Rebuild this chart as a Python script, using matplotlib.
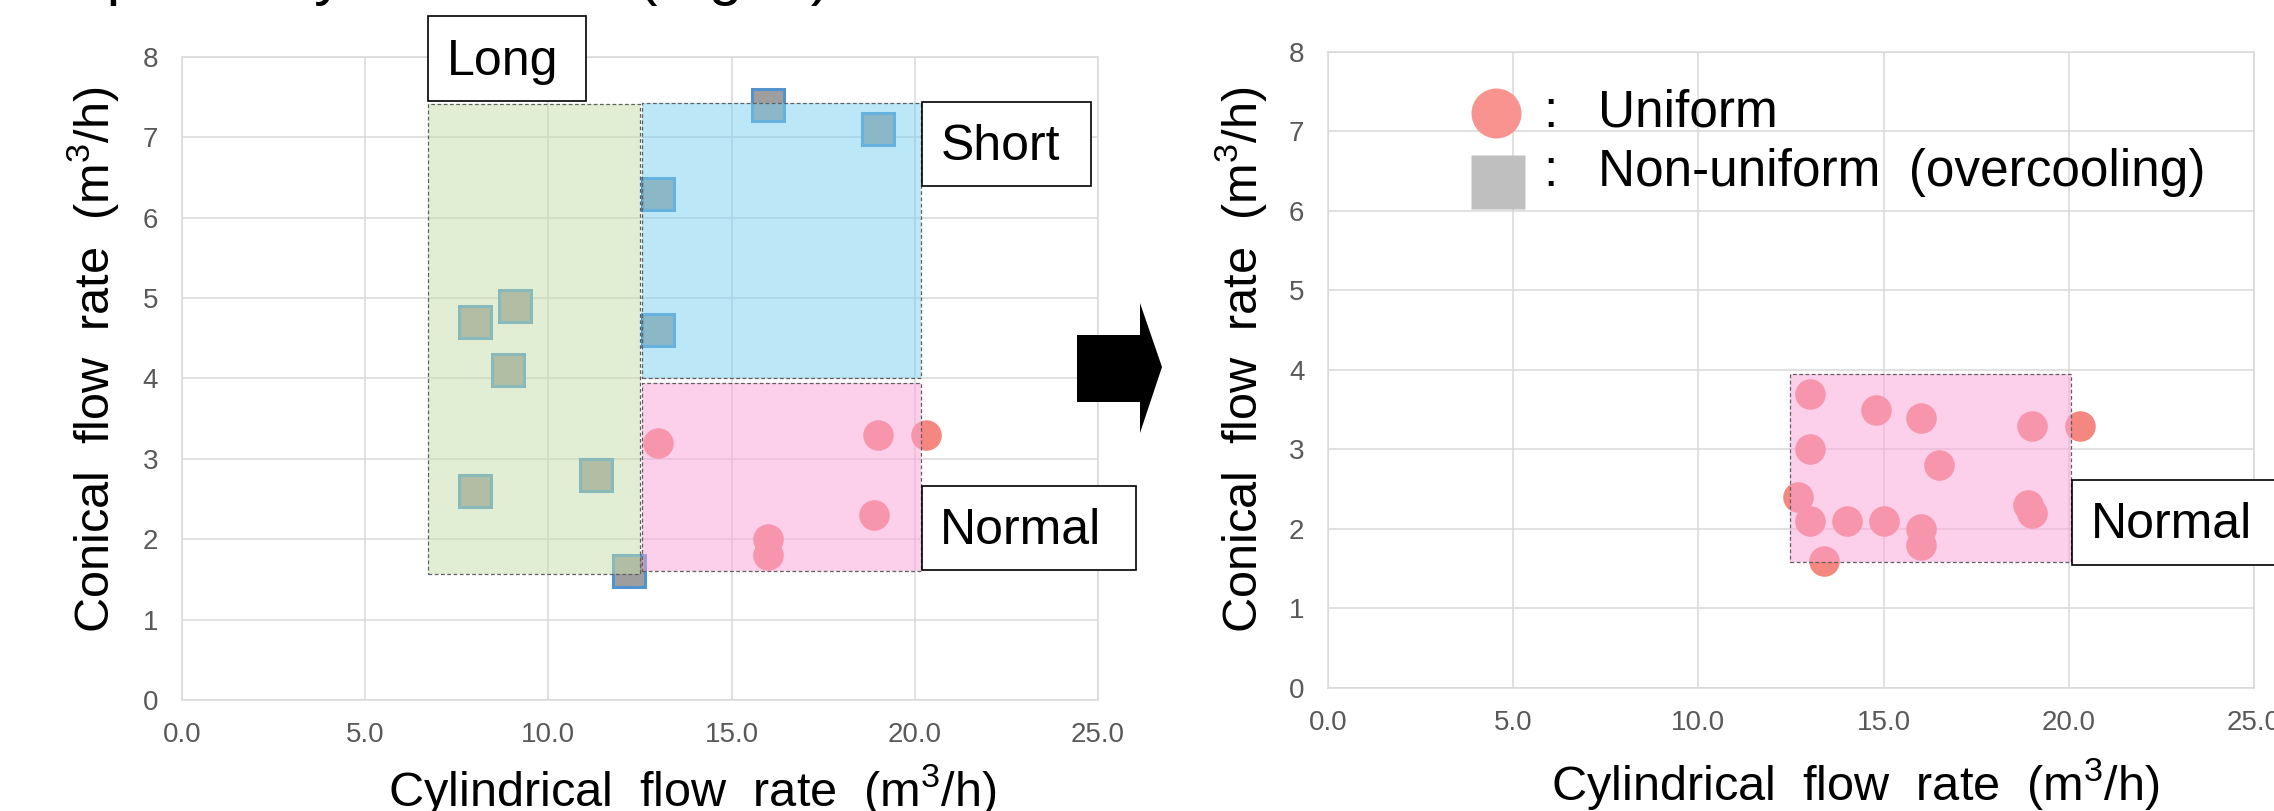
import matplotlib
matplotlib.use("Agg")
import matplotlib.pyplot as plt
from matplotlib.patches import Rectangle, Polygon

plt.rcParams['font.family'] = ['Liberation Sans', 'DejaVu Sans']
plt.rcParams['mathtext.fontset'] = 'custom'
plt.rcParams['mathtext.rm'] = 'Liberation Sans'
plt.rcParams['mathtext.default'] = 'regular'

# ---- data ----
x_ticks = [0.0, 5.0, 10.0, 15.0, 20.0, 25.0]
y_ticks = [0, 1, 2, 3, 4, 5, 6, 7, 8]

# left panel: before
nonuni_x = [8.0, 9.1, 8.9, 8.0, 11.3, 12.2, 16.0, 19.0, 13.0, 13.0]
nonuni_y = [4.7, 4.9, 4.1, 2.6, 2.8, 1.6, 7.4, 7.1, 6.3, 4.6]
uni_left_x = [13.0, 19.0, 20.3, 18.9, 16.0, 16.0]
uni_left_y = [3.2, 3.3, 3.3, 2.3, 2.0, 1.8]

# right panel: after
uni_right_x = [13.0, 14.8, 16.0, 19.0, 20.3, 13.0, 16.5, 12.7,
               13.0, 14.0, 15.0, 16.0, 16.0, 18.9, 19.0, 13.4]
uni_right_y = [3.7, 3.5, 3.4, 3.3, 3.3, 3.0, 2.8, 2.4,
               2.1, 2.1, 2.1, 2.0, 1.8, 2.3, 2.2, 1.6]

# shaded regions (x0, x1, y0, y1)
region_long = (6.72, 12.5, 1.57, 7.42)
region_short = (12.56, 20.18, 4.0, 7.43)
region_normal_left = (12.56, 20.18, 1.61, 3.95)
region_normal_right = (12.48, 20.06, 1.58, 3.95)

# label boxes (text, x0, x1, y0, y1)
labels_left = [("Long", 6.72, 11.03, 7.45, 8.51),
               ("Short", 20.2, 24.8, 6.40, 7.44),
               ("Normal", 20.2, 26.04, 1.62, 2.66)]
labels_right = [("Normal", 20.1, 26.8, 1.55, 2.62)]

CIRCLE = "#f4877f"
SQUARE = "#9e9e9e"
SQ_EDGE = "#4f93cf"
GRID = "#d9d9d9"
TICK = "#595959"

fig = plt.figure(figsize=(22.74, 8.11), dpi=100)
ax1 = fig.add_axes([0.0800, 0.1369, 0.4028, 0.7928])
ax2 = fig.add_axes([0.5840, 0.1517, 0.4072, 0.7842])


def style_axes(ax):
    ax.set_xlim(0, 25)
    ax.set_ylim(0, 8)
    ax.set_xticks(x_ticks)
    ax.set_xticklabels([f"{v:.1f}" for v in x_ticks])
    ax.set_yticks(y_ticks)
    ax.grid(True, color=GRID, linewidth=1.1)
    ax.set_axisbelow(True)
    for s in ax.spines.values():
        s.set_color(GRID)
        s.set_linewidth(1.1)
    ax.tick_params(length=0, labelsize=20, labelcolor=TICK)
    ax.tick_params(axis='y', pad=17)
    ax.tick_params(axis='x', pad=16)


def add_region(ax, reg, color):
    x0, x1, y0, y1 = reg
    ax.add_patch(Rectangle((x0, y0), x1 - x0, y1 - y0, facecolor=color,
                           alpha=0.5, edgecolor='none', zorder=3))
    ax.add_patch(Rectangle((x0, y0), x1 - x0, y1 - y0, fill=False,
                           edgecolor="#606060", linewidth=0.9,
                           linestyle=(0, (3, 2)), zorder=3.5))


def add_label(ax, lab):
    text, x0, x1, y0, y1 = lab
    ax.add_patch(Rectangle((x0, y0), x1 - x0, y1 - y0, facecolor='white',
                           edgecolor='black', linewidth=1.2, zorder=5,
                           clip_on=False))
    ax.text(x0 + 0.5, (y0 + y1) / 2 - 0.04, text, fontsize=36, ha='left',
            va='center', zorder=6, clip_on=False)


# ---- left panel ----
style_axes(ax1)
ax1.plot(nonuni_x, nonuni_y, 's', markersize=23, markerfacecolor=SQUARE,
         markeredgecolor=SQ_EDGE, markeredgewidth=2.2, zorder=2)
ax1.plot(uni_left_x, uni_left_y, 'o', markersize=22, markerfacecolor=CIRCLE,
         markeredgecolor='none', zorder=2)
add_region(ax1, region_long, "#c5dfab")
add_region(ax1, region_short, "#7bd1f1")
add_region(ax1, region_normal_left, "#fba3d9")
for lab in labels_left:
    add_label(ax1, lab)

ax1.set_xlabel("Cylindrical  flow  rate  (m$^3$/h)", fontsize=35, va='baseline')
ax1.xaxis.set_label_coords(0.557, -0.165)
ax1.set_ylabel("Conical  flow  rate  (m$^3$/h)", fontsize=35, va='center', ha='center')
ax1.yaxis.set_label_coords(-0.097, 0.529)

# ---- right panel ----
style_axes(ax2)
ax2.plot(uni_right_x, uni_right_y, 'o', markersize=22, markerfacecolor=CIRCLE,
         markeredgecolor='none', zorder=2)
add_region(ax2, region_normal_right, "#fba3d9")
for lab in labels_right:
    add_label(ax2, lab)

# legend drawn inside the plot
ax2.plot([4.54], [7.23], 'o', markersize=36, markerfacecolor="#f8938f",
         markeredgecolor='none', zorder=4, clip_on=False)
ax2.plot([4.6], [6.36], 's', markersize=39, markerfacecolor="#bfbfbf",
         markeredgecolor='none', zorder=4, clip_on=False)
ax2.text(5.8, 7.23, ":", fontsize=37, ha='left', va='center', zorder=6)
ax2.text(5.8, 6.48, ":", fontsize=37, ha='left', va='center', zorder=6)
ax2.text(7.3, 7.23, "Uniform", fontsize=37, ha='left', va='center', zorder=6)
ax2.text(7.3, 6.48, "Non-uniform  (overcooling)", fontsize=37, ha='left',
         va='center', zorder=6)

ax2.set_xlabel("Cylindrical  flow  rate  (m$^3$/h)", fontsize=35, va='baseline')
ax2.xaxis.set_label_coords(0.569, -0.176)
ax2.set_ylabel("Conical  flow  rate  (m$^3$/h)", fontsize=35, va='center', ha='center')
ax2.yaxis.set_label_coords(-0.094, 0.516)

# big arrow between the panels (figure pixel coords)
W, H = 2274, 811
arrow_px = [(1077, 335), (1140, 335), (1140, 303), (1162, 367),
            (1140, 433), (1140, 402), (1077, 402)]
fig.patches.append(Polygon([(x / W, 1 - y / H) for x, y in arrow_px],
                           closed=True, facecolor='black', edgecolor='none',
                           transform=fig.transFigure, figure=fig))

# cut-off line of body text at the very top
fig.text(76 / W, 1 + 7 / H, "spectively as shown (Fig. 7).", fontsize=44,
         ha='left', va='baseline')

fig.savefig("out.png", dpi=100)
